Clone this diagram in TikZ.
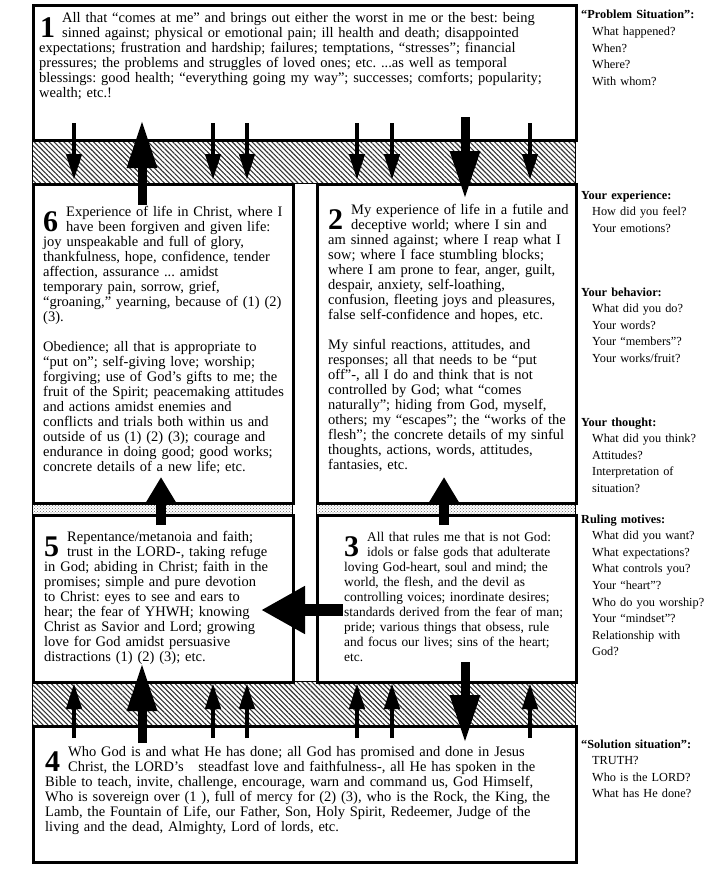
\documentclass[tikz,border=0pt]{standalone}
\usepackage{fontspec}
\setmainfont{Liberation Serif}
\usetikzlibrary{arrows.meta,patterns,patterns.meta}
\frenchspacing
\tikzset{
    panel/.style={draw, line width=3pt, anchor=north west, inner sep=0pt},
    body/.style={anchor=base west, inner sep=0pt, align=left, text width=#1,
        font=\fontsize{14.5}{15}\selectfont},
    small body/.style={body=#1, font=\fontsize{13.4}{15}\selectfont},
    bignum/.style={anchor=base west, inner sep=0pt, font=\fontsize{30}{30}\selectfont\bfseries},
    side/.style={anchor=base west, inner sep=0pt, align=left, text width=150pt,
        font=\fontsize{12.3}{16.6}\selectfont},
    hatch/.style={draw, line width=1pt, pattern={Lines[angle=-45,distance=3.5pt,line width=1.1pt]}, pattern color=black!80},
    dotband/.style={draw, line width=1pt, pattern=crosshatch dots, pattern color=black!60},
    thinarrow/.style={line width=4.5pt, -{Triangle[width=15pt,length=26pt]}},
    bigarrow/.style={line width=9pt, -{Triangle[width=28pt,length=48pt]}},
    midarrow/.style={line width=10pt, -{Triangle[width=30pt,length=27pt]}},
    sidearrow/.style={line width=12pt, -{Triangle[width=45pt,length=44pt]}}
}
\newcommand{\capgap}{\hspace*{23pt}}
\newcommand{\qgap}{\hspace*{11pt}}

\begin{document}
\begin{tikzpicture}[x=1pt,y=-1pt]
    \useasboundingbox (0,0) rectangle (724,870);

    % bands between the boxes
    \draw[hatch] (32,139) rectangle (575,183);
    \draw[hatch] (32,681) rectangle (575,725);
    \draw[dotband] (32,502) rectangle (292,514);
    \draw[dotband] (316,502) rectangle (575,514);

    \node (b1) [panel, minimum width=543pt, minimum height=135pt] at (32,4) {};
    \node (b6) [panel, minimum width=260pt, minimum height=319pt] at (32,183) {};
    \node (b2) [panel, minimum width=259pt, minimum height=319pt] at (316,183) {};
    \node (b5) [panel, minimum width=260pt, minimum height=167pt] at (32,514) {};
    \node (b3) [panel, minimum width=259pt, minimum height=167pt] at (316,514) {};
    \node (b4) [panel, minimum width=543pt, minimum height=136pt] at (32,725) {};

    \node (n1) [bignum] at (40,37) {1};
    \node (t1) [body=545pt] at (39,22) {\capgap All that “comes at me” and brings out either the worst in me or the best: being\\
        \capgap sinned against; physical or emotional pain; ill health and death; disappointed\\
        expectations; frustration and hardship; failures; temptations, “stresses”; financial\\
        pressures; the problems and struggles of loved ones; etc. ...as well as temporal\\
        blessings: good health; “everything going my way”; successes; comforts; popularity;\\
        wealth; etc.!};

    \node (n6) [bignum] at (43,231) {6};
    \node (t6) [body=300pt] at (43,216) {\capgap Experience of life in Christ, where I\\
        \capgap have been forgiven and given life:\\
        joy unspeakable and full of glory,\\
        thankfulness, hope, confidence, tender\\
        affection, assurance ... amidst\\
        temporary pain, sorrow, grief,\\
        “groaning,” yearning, because of (1) (2)\\
        (3).\\[15pt]
        Obedience; all that is appropriate to\\
        “put on”; self-giving love; worship;\\
        forgiving; use of God's gifts to me; the\\
        fruit of the Spirit; peacemaking attitudes\\
        and actions amidst enemies and\\
        conflicts and trials both within us and\\
        outside of us (1) (2) (3); courage and\\
        endurance in doing good; good works;\\
        concrete details of a new life; etc.};

    \node (n2) [bignum] at (328,229) {2};
    \node (t2) [body=300pt] at (328,214) {\capgap My experience of life in a futile and\\
        \capgap deceptive world; where I sin and\\
        am sinned against; where I reap what I\\
        sow; where I face stumbling blocks;\\
        where I am prone to fear, anger, guilt,\\
        despair, anxiety, self-loathing,\\
        confusion, fleeting joys and pleasures,\\
        false self-confidence and hopes, etc.\\[15pt]
        My sinful reactions, attitudes, and\\
        responses; all that needs to be “put\\
        off”-, all I do and think that is not\\
        controlled by God; what “comes\\
        naturally”; hiding from God, myself,\\
        others; my “escapes”; the “works of the\\
        flesh”; the concrete details of my sinful\\
        thoughts, actions, words, attitudes,\\
        fantasies, etc.};

    \node (n5) [bignum] at (44,556) {5};
    \node (t5) [body=300pt] at (44,541) {\capgap Repentance/metanoia and faith;\\
        \capgap trust in the LORD-, taking refuge\\
        in God; abiding in Christ; faith in the\\
        promises; simple and pure devotion\\
        to Christ: eyes to see and ears to\\
        hear; the fear of YHWH; knowing\\
        Christ as Savior and Lord; growing\\
        love for God amidst persuasive\\
        distractions (1) (2) (3); etc.};

    \node (n3) [bignum] at (344,556) {3};
    \node (t3) [small body=300pt] at (344,541) {\capgap All that rules me that is not God:\\
        \capgap idols or false gods that adulterate\\
        loving God-heart, soul and mind; the\\
        world, the flesh, and the devil as\\
        controlling voices; inordinate desires;\\
        standards derived from the fear of man;\\
        pride; various things that obsess, rule\\
        and focus our lives; sins of the heart;\\
        etc.};

    \node (n4) [bignum] at (45,771) {4};
    \node (t4) [body=545pt] at (45,756) {\capgap Who God is and what He has done; all God has promised and done in Jesus\\
        \capgap Christ, the LORD's\ \ \ steadfast love and faithfulness-, all He has spoken in the\\
        Bible to teach, invite, challenge, encourage, warn and command us, God Himself,\\
        Who is sovereign over (1 ), full of mercy for (2) (3), who is the Rock, the King, the\\
        Lamb, the Fountain of Life, our Father, Son, Holy Spirit, Redeemer, Judge of the\\
        living and the dead, Almighty, Lord of lords, etc.};

    % questions in the margin
    \node (s1) [side] at (581,19) {\textbf{“Problem Situation”:}\\ \qgap What happened?\\ \qgap When?\\ \qgap Where?\\ \qgap With whom?};
    \node (s2) [side] at (581,199) {\textbf{Your experience:}\\ \qgap How did you feel?\\ \qgap Your emotions?};
    \node (s3) [side] at (581,296) {\textbf{Your behavior:}\\ \qgap What did you do?\\ \qgap Your words?\\ \qgap Your “members”?\\ \qgap Your works/fruit?};
    \node (s4) [side] at (581,426) {\textbf{Your thought:}\\ \qgap What did you think?\\ \qgap Attitudes?\\ \qgap Interpretation of\\ \qgap situation?};
    \node (s5) [side] at (581,523) {\textbf{Ruling motives:}\\ \qgap What did you want?\\ \qgap What expectations?\\ \qgap What controls you?\\ \qgap Your “heart”?\\ \qgap Who do you worship?\\ \qgap Your “mindset”?\\ \qgap Relationship with\\ \qgap God?};
    \node (s6) [side] at (581,748) {\textbf{“Solution situation”:}\\ \qgap TRUTH?\\ \qgap Who is the LORD?\\ \qgap What has He done?};

    % arrows
    \foreach \x [count=\i] in {74,213,247,357,392,530} {
        \coordinate (ua\i) at (\x,123);
        \coordinate (ub\i) at (\x,180);
        \draw[thinarrow] (ua\i) -- (ub\i);
        \coordinate (la\i) at (\x,738);
        \coordinate (lb\i) at (\x,683);
        \draw[thinarrow] (la\i) -- (lb\i);
    }
    \coordinate (g1) at (142,205);
    \coordinate (g2) at (142,120);
    \coordinate (g3) at (142,743);
    \coordinate (g4) at (142,663);
    \coordinate (r1) at (465,117);
    \coordinate (r2) at (465,199);
    \coordinate (r3) at (465,662);
    \coordinate (r4) at (465,743);
    \draw[bigarrow] (g1) -- (g2);
    \draw[bigarrow] (g3) -- (g4);
    \draw[bigarrow] (r1) -- (r2);
    \draw[bigarrow] (r3) -- (r4);

    \coordinate (m1) at (161,525);
    \coordinate (m2) at (161,477);
    \coordinate (m3) at (444,525);
    \coordinate (m4) at (444,477);
    \draw[midarrow] (m1) -- (m2);
    \draw[midarrow] (m3) -- (m4);

    \coordinate (h1) at (343,610);
    \coordinate (h2) at (261,610);
    \draw[sidearrow] (h1) -- (h2);
\end{tikzpicture}
\end{document}
